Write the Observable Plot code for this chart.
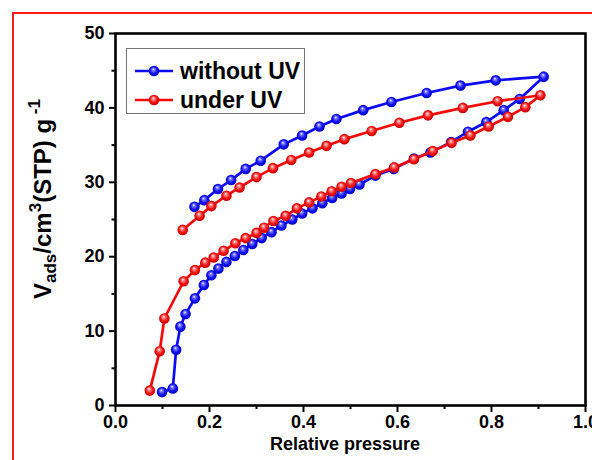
<!DOCTYPE html>
<html>
<head>
<meta charset="utf-8">
<script src="https://cdn.jsdelivr.net/npm/d3@7"></script>
<script src="https://cdn.jsdelivr.net/npm/@observablehq/plot@0.6"></script>
<style>
  html, body { margin: 0; padding: 0; background: #fff; }
  body { width: 592px; height: 460px; overflow: hidden; position: relative; }
  #chart { position: absolute; left: 0; top: 0; }
  #border { position: absolute; left: 12px; top: 12px; width: 640px; height: 520px;
            border: 2px solid #ff1a1a; box-sizing: border-box; pointer-events: none; }
</style>
</head>
<body>
<div id="chart"></div>
<div id="border"></div>
<script>
// N2 isotherms: relative pressure vs adsorbed volume (cm3 STP / g)
const seriesNames = ["without UV", "under UV"];
const seriesColors = ["#0a0af5", "#f50a0a"];

// without UV — adsorption branch
const noUvAdsP = [0.099, 0.122, 0.129, 0.138, 0.149, 0.169, 0.188, 0.204, 0.219, 0.236, 0.254, 0.272, 0.291, 0.311, 0.332, 0.353, 0.376, 0.397, 0.419, 0.440, 0.461, 0.481, 0.499, 0.519, 0.553, 0.592, 0.635, 0.670, 0.714, 0.750, 0.789, 0.826, 0.860, 0.911];
const noUvAdsV = [1.8, 2.3, 7.5, 10.6, 12.3, 14.4, 16.2, 17.5, 18.4, 19.3, 20.1, 20.9, 21.7, 22.5, 23.3, 24.2, 25.0, 25.8, 26.5, 27.2, 27.9, 28.5, 29.1, 29.7, 30.9, 31.8, 33.2, 34.0, 35.4, 36.8, 38.1, 39.7, 41.2, 44.2];
// without UV — desorption branch
const noUvDesP = [0.809, 0.734, 0.662, 0.587, 0.527, 0.470, 0.434, 0.397, 0.358, 0.309, 0.277, 0.246, 0.218, 0.189, 0.168];
const noUvDesV = [43.7, 43.0, 42.0, 40.8, 39.7, 38.5, 37.5, 36.3, 35.1, 32.9, 31.8, 30.3, 29.1, 27.6, 26.7];

// under UV — adsorption branch
const uvAdsP = [0.073, 0.094, 0.104, 0.145, 0.169, 0.191, 0.209, 0.230, 0.255, 0.277, 0.300, 0.316, 0.336, 0.362, 0.386, 0.412, 0.438, 0.460, 0.481, 0.501, 0.553, 0.593, 0.635, 0.675, 0.715, 0.755, 0.794, 0.835, 0.872, 0.904];
const uvAdsV = [2.0, 7.3, 11.7, 16.7, 18.2, 19.2, 19.9, 20.8, 21.8, 22.5, 23.2, 23.9, 24.8, 25.5, 26.5, 27.3, 28.1, 28.8, 29.4, 29.9, 31.1, 32.0, 33.1, 34.2, 35.3, 36.3, 37.5, 38.8, 40.1, 41.7];
// under UV — desorption branch
const uvDesP = [0.813, 0.739, 0.665, 0.604, 0.545, 0.487, 0.449, 0.412, 0.374, 0.335, 0.300, 0.264, 0.236, 0.204, 0.179, 0.143];
const uvDesV = [40.9, 40.0, 39.0, 38.0, 36.9, 35.8, 34.9, 34.0, 33.0, 31.9, 30.7, 29.3, 28.2, 26.8, 25.5, 23.6];

// axis ticks
const xMajorTicks = [0, 0.2, 0.4, 0.6, 0.8, 1.0];
const xMinorTicks = [0.1, 0.3, 0.5, 0.7, 0.9];
const yMajorTicks = [0, 10, 20, 30, 40, 50];
const yMinorTicks = [5, 15, 25, 35, 45];

const xTitle = "Relative pressure";

// one continuous path per sample: adsorption up, then desorption back down
function rowsFor(name, ps, vs) {
  return ps.map((p, i) => ({series: name, p, v: vs[i]}));
}
const noUvRows = rowsFor(seriesNames[0], [...noUvAdsP, ...noUvDesP], [...noUvAdsV, ...noUvDesV]);
const uvRows = rowsFor(seriesNames[1], [...uvAdsP, ...uvDesP], [...uvAdsV, ...uvDesV]);

const color = {domain: seriesNames, range: seriesColors};

function seriesMarks(rows, gradId) {
  return [
    Plot.line(rows, {x: "p", y: "v", stroke: "series", strokeWidth: 2.7}),
    Plot.dot(rows, {x: "p", y: "v", r: 5.3, fill: `url(#${gradId})`, stroke: "none"})
  ];
}

const plot = Plot.plot({
  width: 592,
  height: 460,
  marginLeft: 115,
  marginRight: 7,
  marginTop: 33,
  marginBottom: 55,
  style: {fontFamily: "'Liberation Sans', Arial, sans-serif", fontWeight: "bold", background: "transparent", color: "#000"},
  x: {domain: [0, 1]},
  y: {domain: [0, 50]},
  color,
  marks: [
    Plot.axisX({ticks: xMajorTicks, tickSize: 7, tickPadding: 3, strokeWidth: 2, fontSize: 18, tickFormat: d3.format(".1f"), label: null}),
    Plot.axisX({ticks: xMinorTicks, tickSize: 4, strokeWidth: 2, text: null, label: null}),
    Plot.axisY({ticks: yMajorTicks, tickSize: 6, tickPadding: 5, strokeWidth: 2, fontSize: 18, label: null}),
    Plot.axisY({ticks: yMinorTicks, tickSize: 3.5, strokeWidth: 2, text: null, label: null}),
    ...seriesMarks(noUvRows, "ballBlue"),
    ...seriesMarks(uvRows, "ballRed"),
    Plot.frame({stroke: "#000", strokeWidth: 2.6})
  ]
});

document.getElementById("chart").appendChild(plot);

const svg = d3.select(plot);

// glossy ball fills for the markers
const defs = svg.insert("defs", ":first-child");
function ball(id, light, mid, dark) {
  const g = defs.append("radialGradient").attr("id", id)
    .attr("cx", "50%").attr("cy", "50%").attr("r", "55%")
    .attr("fx", "42%").attr("fy", "32%");
  g.append("stop").attr("offset", "0%").attr("stop-color", "#ffffff");
  g.append("stop").attr("offset", "22%").attr("stop-color", light);
  g.append("stop").attr("offset", "60%").attr("stop-color", mid);
  g.append("stop").attr("offset", "100%").attr("stop-color", dark);
}
ball("ballBlue", "#7a7aff", "#1010f5", "#0000b8");
ball("ballRed", "#ff8a8a", "#f51010", "#b80000");

// x-axis title
svg.append("text")
  .attr("x", 345).attr("y", 450)
  .attr("text-anchor", "middle")
  .attr("font-size", 18).attr("font-weight", "bold")
  .text(xTitle);

// y-axis title with sub/superscripts
const yt = svg.append("text")
  .attr("transform", "translate(51,199) rotate(-90)")
  .attr("text-anchor", "middle")
  .attr("font-size", 24).attr("font-weight", "bold");
yt.append("tspan").text("V");
yt.append("tspan").attr("font-size", 17).attr("dy", 5).text("ads");
yt.append("tspan").attr("dy", -5).text("/cm");
yt.append("tspan").attr("font-size", 17).attr("dy", -10).text("3");
yt.append("tspan").attr("dy", 10).text("(STP) g");
yt.append("tspan").attr("font-size", 17).attr("dy", -11).text(" -1");

// legend
const legend = svg.append("g");
legend.append("rect")
  .attr("x", 126.5).attr("y", 48.5).attr("width", 178).attr("height", 65)
  .attr("fill", "#fff").attr("stroke", "#777").attr("stroke-width", 1);
const legendRows = [
  {name: seriesNames[0], color: seriesColors[0], grad: "ballBlue", y: 71},
  {name: seriesNames[1], color: seriesColors[1], grad: "ballRed", y: 100}
];
for (const r of legendRows) {
  legend.append("line")
    .attr("x1", 135).attr("x2", 173).attr("y1", r.y).attr("y2", r.y)
    .attr("stroke", r.color).attr("stroke-width", 2.7);
  legend.append("circle")
    .attr("cx", 154).attr("cy", r.y).attr("r", 5.3)
    .attr("fill", `url(#${r.grad})`);
  legend.append("text")
    .attr("x", 180).attr("y", r.y + 8)
    .attr("text-anchor", "start")
    .attr("font-size", 23).attr("font-weight", "bold")
    .text(r.name);
}
</script>
</body>
</html>
